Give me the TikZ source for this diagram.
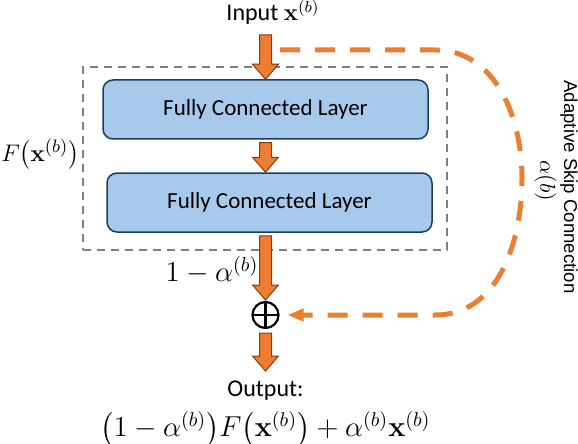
\documentclass[tikz,border=0pt]{standalone}
\usepackage{amsmath}
\usepackage[no-math]{fontspec}
\setmainfont{Carlito}
\newfontfamily\arialfont{Liberation Sans}
\usetikzlibrary{positioning,calc,arrows.meta}
\definecolor{fcblue}{HTML}{A6C9EC}
\definecolor{fcedge}{HTML}{1B3F5A}
\definecolor{skiporange}{HTML}{ED7D31}
\definecolor{arrowedge}{HTML}{843C0C}
\newcommand{\blockarrow}[2]{%
	\path ($(#1)+(0,3)$) coordinate (ba-s) (#2) coordinate (ba-e);
	\filldraw[fatarrow] ($(ba-s)+(-6,0)$) -- ($(ba-e)+(-6,-15)$) -- ($(ba-e)+(-13,-15)$) -- (ba-e) -- ($(ba-e)+(13,-15)$) -- ($(ba-e)+(6,-15)$) -- ($(ba-s)+(6,0)$) -- cycle;}

\begin{document}
\begin{tikzpicture}[x=0.5pt, y=-0.5pt,
						layer/.style={rectangle, rounded corners=5pt, draw=fcedge, line width=0.75pt, fill=fcblue, minimum width=162.5pt, minimum height=29.5pt, font=\fontsize{11.5}{13}\selectfont},
						fxbox/.style={rectangle, draw=black!50, dash pattern=on 4pt off 3pt, line width=1.3pt, minimum width=182pt, minimum height=91.5pt},
						mathlabel/.style={font=\fontsize{14.5}{17}\selectfont},
						fatarrow/.style={fill=skiporange, draw=arrowedge, line width=0.5pt},
						skip/.style={draw=skiporange, line width=2.5pt, dash pattern=on 10pt off 7.5pt, -{Triangle[length=8pt, width=6pt]}, shorten >=3.5pt},
						addnode/.style={circle, draw=black, line width=1.1pt, minimum size=13pt, inner sep=0pt, outer sep=1pt, path picture={\draw[line width=1.1pt] (path picture bounding box.north) -- (path picture bounding box.south) (path picture bounding box.west) -- (path picture bounding box.east);}}
					]
					\useasboundingbox (0,0) rectangle (578,444);
					\node[layer] (fc1) at (265.5,109.5) {Fully Connected Layer};
					\node[layer] (fc2) at (269.5,202.5) {Fully Connected Layer};
					\node[fxbox] (fx) at (265,158.5) {};
					\node[font=\fontsize{12}{14}\selectfont, anchor=base] (input) at (273,21) {Input $\mathbf{x}^{(b)}$};
					\node[mathlabel, font=\fontsize{13}{15}\selectfont, left=0pt of fx, yshift=2pt, inner xsep=1pt] (fxlabel) {$F\big(\mathbf{x}^{(b)}\big)$};
					\node[mathlabel] (gate) at (212,270) {$1-\alpha^{(b)}$};
					\node[addnode] (add) at (265.5,315) {};
					\node[mathlabel, align=center, anchor=north, inner ysep=5pt] (output) at (265.5,371) {{\fontsize{12}{14}\selectfont Output:}\\[3pt]$\big(1-\alpha^{(b)}\big)F\big(\mathbf{x}^{(b)}\big)+\alpha^{(b)}\mathbf{x}^{(b)}$};
					\node[font=\arialfont\fontsize{9.3}{11}\selectfont, rotate=-90, align=center] (skiplabel) at (556,187) {Adaptive Skip Connection\\[1pt]{\fontsize{11}{13}\selectfont$\alpha(b)\hspace{6pt}$}};
					\coordinate (skipstart) at (280,50);
					\blockarrow{fc1.north |- input.south}{fc1.north}
					\blockarrow{fc1.south}{fc1.south |- fc2.north}
					\blockarrow{fc1.south |- fc2.south}{add.north}
					\blockarrow{add.south}{output.north}
					\draw[skip] (skipstart) -- (435,50) to[out=0,in=90] (522,178) to[out=-90,in=0] (435,315) -- (add.east);
\end{tikzpicture}
\end{document}
